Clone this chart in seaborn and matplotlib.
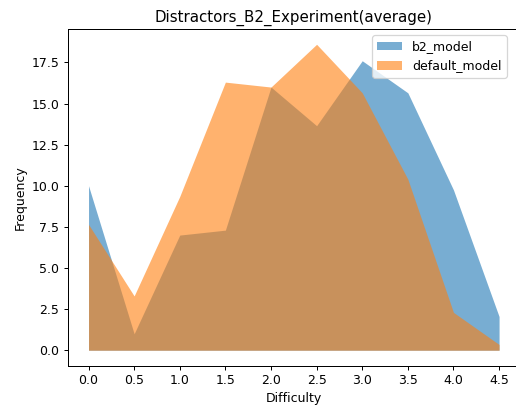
import matplotlib
matplotlib.use("Agg")
import matplotlib.pyplot as plt
import seaborn as sns
import numpy as np

difficulty = [0.0, 0.5, 1.0, 1.5, 2.0, 2.5, 3.0, 3.5, 4.0, 4.5]
b2_model = [10.0, 1.0, 7.0, 7.3, 16.0, 13.65, 17.6, 15.65, 9.75, 2.05]
default_model = [7.65, 3.3, 9.35, 16.3, 16.0, 18.6, 15.65, 10.4, 2.3, 0.35]
series_names = ["b2_model", "default_model"]

palette = sns.color_palette("tab10")

DPI = 90
fig = plt.figure(figsize=(516 / DPI, 406 / DPI), dpi=DPI)
ax = fig.add_axes([68 / 516, 1 - 365.5 / 406, (519.6 - 68) / 516, (365.5 - 29) / 406])

for i, (name, vals) in enumerate(zip(series_names, [b2_model, default_model])):
    ax.fill_between(difficulty, 0, vals, color=palette[i], alpha=0.6, linewidth=0, label=name)

ax.set_xticks(difficulty)
ax.set_title("Distractors_B2_Experiment(average)")
ax.set_xlabel("Difficulty")
ax.set_ylabel("Frequency")
ax.legend(loc="upper right", bbox_to_anchor=(0.985, 1.0))

fig.savefig("out.png", dpi=DPI)
